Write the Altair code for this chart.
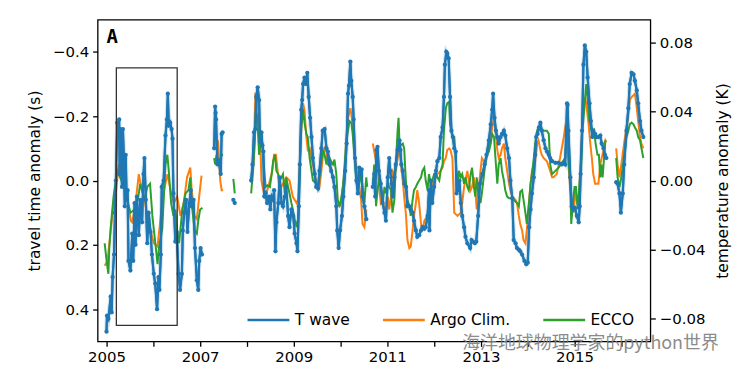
import altair as alt
import pandas as pd

# ---------------- data (year, travel-time anomaly in s) ----------------
# None separates gaps in a series
TWAVE = [
    (2005.00, 0.47), (2005.01, 0.42), (2005.04, 0.43), (2005.09, 0.36), (2005.11, 0.41), (2005.13, 0.30),
    (2005.16, 0.23), (2005.18, 0.10), (2005.20, 0.00), (2005.23, -0.18), (2005.25, -0.13), (2005.27, -0.19),
    (2005.28, -0.02), (2005.30, -0.16), (2005.33, 0.02), (2005.35, -0.16), (2005.37, -0.07), (2005.39, 0.08),
    (2005.41, -0.08), (2005.43, 0.06), (2005.45, 0.03), (2005.47, 0.25), (2005.51, 0.28), (2005.55, 0.165),
    (2005.57, 0.25), (2005.60, 0.07), (2005.62, 0.20), (2005.65, 0.05), (2005.69, 0.17), (2005.72, 0.06),
    (2005.76, 0.13), (2005.79, -0.02), (2005.81, -0.07), (2005.84, 0.06), (2005.87, 0.195), (2005.90, 0.10),
    (2005.94, 0.16), (2005.97, 0.23), (2006.01, 0.29), (2006.04, 0.32), (2006.08, 0.40), (2006.11, 0.30),
    (2006.13, 0.34), (2006.16, 0.23), (2006.18, 0.02), (2006.22, 0.00), (2006.26, -0.14), (2006.29, -0.19),
    (2006.31, -0.27), (2006.33, -0.17), (2006.36, -0.18), (2006.39, -0.16), (2006.41, -0.13), (2006.43, 0.04),
    (2006.47, 0.19), (2006.50, 0.16), (2006.54, 0.29), (2006.57, 0.34), (2006.61, 0.29), (2006.63, 0.155),
    (2006.66, 0.10), (2006.70, 0.06), (2006.73, 0.16), (2006.77, 0.07), (2006.80, 0.03), (2006.82, 0.08),
    (2006.86, 0.06), (2006.89, 0.21), (2006.93, 0.31), (2006.96, 0.34), (2006.98, 0.25), (2007.01, 0.21),
    (2007.04, 0.23),
    None,
    (2007.30, -0.10), (2007.32, -0.23), (2007.33, -0.21), (2007.34, -0.19), (2007.37, -0.05), (2007.40, -0.06),
    (2007.44, -0.02), (2007.46, -0.145), (2007.48, -0.15),
    None,
    (2007.71, 0.06), (2007.74, 0.07),
    None,
    (2008.09, 0.00), (2008.12, -0.05), (2008.15, -0.15), (2008.18, -0.16), (2008.20, -0.26), (2008.23, -0.29),
    (2008.26, -0.25), (2008.28, -0.12), (2008.31, -0.15), (2008.33, -0.11), (2008.35, -0.09), (2008.37, 0.05),
    (2008.40, 0.04), (2008.43, 0.07), (2008.47, 0.05), (2008.50, 0.09), (2008.53, 0.05), (2008.56, 0.06),
    (2008.58, 0.03), (2008.61, 0.22), (2008.63, 0.13), (2008.67, 0.07), (2008.70, -0.01), (2008.74, 0.07),
    (2008.77, 0.08), (2008.81, 0.05), (2008.84, 0.02), (2008.88, 0.11), (2008.91, 0.145), (2008.95, 0.09),
    (2008.99, 0.11), (2009.02, 0.165), (2009.06, 0.195), (2009.08, 0.22), (2009.11, 0.08), (2009.13, -0.05),
    (2009.16, -0.22), (2009.18, -0.25), (2009.20, -0.30), (2009.23, -0.32), (2009.26, -0.30), (2009.29, -0.335),
    (2009.32, -0.26), (2009.35, -0.195), (2009.38, -0.135), (2009.41, -0.07), (2009.45, -0.02), (2009.48, 0.02),
    (2009.52, 0.025), (2009.55, -0.03), (2009.59, -0.10), (2009.62, -0.155), (2009.66, -0.16), (2009.70, -0.10),
    (2009.73, -0.09), (2009.77, -0.05), (2009.80, -0.03), (2009.84, -0.01), (2009.87, 0.02), (2009.91, 0.08),
    (2009.93, 0.155), (2009.96, 0.21), (2009.99, 0.155), (2010.03, 0.11), (2010.06, 0.05), (2010.10, -0.03),
    (2010.13, -0.115), (2010.16, -0.27), (2010.18, -0.295), (2010.21, -0.37), (2010.23, -0.31), (2010.26, -0.26),
    (2010.28, -0.19), (2010.31, -0.07), (2010.34, 0.00), (2010.37, 0.04), (2010.40, -0.04), (2010.43, -0.02),
    (2010.45, -0.035), (2010.47, 0.05), (2010.51, 0.08), (2010.55, 0.12),
    None,
    (2010.69, 0.02), (2010.72, -0.02), (2010.74, 0.05), (2010.77, -0.095), (2010.79, -0.105), (2010.82, -0.03),
    (2010.86, 0.01), (2010.90, 0.07), (2010.94, 0.10), (2010.97, 0.125), (2011.01, -0.01), (2011.04, -0.07),
    (2011.06, -0.03), (2011.09, 0.01), (2011.12, 0.05), (2011.15, -0.01), (2011.18, -0.05), (2011.22, -0.095),
    (2011.26, -0.125), (2011.28, -0.095), (2011.30, -0.05), (2011.33, -0.03), (2011.36, 0.01), (2011.40, 0.02),
    (2011.43, 0.08), (2011.47, 0.08), (2011.50, 0.09), (2011.54, 0.10), (2011.57, 0.125), (2011.61, 0.155),
    (2011.64, 0.175), (2011.68, 0.17), (2011.72, 0.155), (2011.75, 0.145), (2011.79, 0.15), (2011.82, 0.145),
    (2011.86, 0.11), (2011.89, 0.03), (2011.90, 0.155), (2011.93, 0.00), (2011.96, 0.07), (2012.00, 0.02),
    (2012.04, -0.03), (2012.07, -0.06), (2012.11, -0.07), (2012.14, -0.135), (2012.18, -0.165), (2012.21, -0.26),
    (2012.23, -0.36), (2012.26, -0.40), (2012.28, -0.395), (2012.31, -0.38), (2012.34, -0.26), (2012.37, -0.155),
    (2012.40, -0.135), (2012.43, -0.10), (2012.46, -0.09), (2012.48, 0.04), (2012.51, 0.03), (2012.54, 0.00),
    (2012.57, 0.07), (2012.60, 0.11), (2012.64, 0.145), (2012.67, 0.175), (2012.71, 0.195), (2012.77, 0.21),
    (2012.80, 0.185), (2012.83, 0.19), (2012.87, 0.195), (2012.90, 0.19), (2012.94, 0.11), (2012.98, 0.01),
    (2013.03, -0.02), (2013.08, -0.05), (2013.12, -0.08), (2013.17, -0.125), (2013.21, -0.175), (2013.24, -0.22),
    (2013.26, -0.27), (2013.29, -0.195), (2013.32, -0.155), (2013.35, -0.135), (2013.38, -0.115), (2013.42, -0.135),
    (2013.45, -0.145), (2013.49, -0.155), (2013.52, -0.14), (2013.56, -0.10), (2013.60, -0.07), (2013.63, 0.00),
    (2013.67, 0.055), (2013.70, 0.185), (2013.74, 0.195), (2013.77, 0.21), (2013.81, 0.215), (2013.84, 0.22),
    (2013.88, 0.23), (2013.93, 0.25), (2013.97, 0.26), (2014.00, 0.255), (2014.03, 0.145), (2014.06, 0.09),
    (2014.09, 0.04), (2014.13, -0.01), (2014.16, -0.08), (2014.18, -0.135), (2014.21, -0.145), (2014.24, -0.165),
    (2014.27, -0.18), (2014.30, -0.155), (2014.34, -0.125), (2014.38, -0.10), (2014.41, -0.09), (2014.45, -0.08),
    (2014.48, -0.07), (2014.52, -0.06), (2014.59, -0.055), (2014.66, -0.055), (2014.73, -0.05), (2014.77, -0.055),
    (2014.80, -0.05), (2014.84, -0.24), (2014.85, -0.235), (2014.87, -0.155), (2014.91, -0.01), (2014.94, 0.08),
    (2014.98, 0.09), (2015.01, 0.085), (2015.05, 0.11), (2015.09, 0.13), (2015.11, 0.08), (2015.13, -0.02),
    (2015.16, -0.155), (2015.19, -0.36), (2015.22, -0.42), (2015.25, -0.40), (2015.28, -0.32), (2015.32, -0.24),
    (2015.35, -0.185), (2015.38, -0.135), (2015.40, -0.155), (2015.44, -0.145), (2015.47, -0.135), (2015.51, -0.135),
    (2015.55, -0.14), (2015.58, -0.115), (2015.62, -0.10), (2015.65, -0.08), (2015.68, -0.07),
    None,
    (2015.89, 0.005), (2015.92, 0.01), (2015.96, 0.04), (2015.99, 0.10), (2016.03, 0.04), (2016.06, -0.05),
    (2016.11, -0.155), (2016.15, -0.225), (2016.18, -0.30), (2016.22, -0.335), (2016.26, -0.33), (2016.29, -0.31),
    (2016.33, -0.28), (2016.36, -0.24), (2016.40, -0.185), (2016.43, -0.155), (2016.47, -0.135),
]

ARGO = [
    (2004.96, 0.265), (2005.02, 0.25), (2005.09, 0.155), (2005.15, 0.07), (2005.20, 0.04), (2005.26, -0.05),
    (2005.34, -0.02), (2005.43, 0.05), (2005.52, 0.125), (2005.55, 0.13), (2005.62, 0.07), (2005.69, -0.02),
    (2005.74, 0.02), (2005.80, 0.05), (2005.87, 0.11), (2005.94, 0.155), (2006.01, 0.195), (2006.09, 0.205),
    (2006.16, 0.11), (2006.23, 0.03), (2006.30, -0.02), (2006.37, 0.03), (2006.44, 0.07), (2006.51, 0.05),
    (2006.58, 0.11), (2006.65, 0.07), (2006.72, -0.01), (2006.79, -0.04), (2006.82, 0.03), (2006.88, 0.11),
    (2006.93, 0.12), (2006.98, 0.05), (2007.03, -0.015),
    None,
    (2007.30, -0.10), (2007.35, -0.10), (2007.38, -0.125), (2007.43, 0.00), (2007.46, 0.03), (2007.49, 0.03),
    None,
    (2008.10, 0.00), (2008.15, -0.07), (2008.18, -0.27), (2008.21, -0.27), (2008.24, -0.21), (2008.28, -0.145),
    (2008.31, 0.00), (2008.35, 0.03), (2008.38, 0.05), (2008.42, 0.04), (2008.49, 0.00), (2008.54, -0.03),
    (2008.58, -0.08), (2008.62, -0.08), (2008.67, -0.01), (2008.70, 0.03), (2008.77, 0.01), (2008.84, -0.01),
    (2008.91, 0.00), (2008.98, 0.05), (2009.06, 0.07), (2009.09, 0.06), (2009.13, -0.05), (2009.16, -0.155),
    (2009.20, -0.24), (2009.23, -0.22), (2009.27, -0.135), (2009.30, -0.095), (2009.34, -0.10), (2009.38, -0.07),
    (2009.45, -0.02), (2009.52, 0.03), (2009.55, 0.02), (2009.59, -0.03), (2009.62, -0.07), (2009.66, -0.10),
    (2009.70, -0.09), (2009.73, -0.05), (2009.80, -0.04), (2009.87, 0.02), (2009.94, 0.07), (2009.98, 0.08),
    (2010.01, 0.07), (2010.09, -0.03), (2010.12, -0.125), (2010.16, -0.195), (2010.21, -0.225), (2010.26, -0.175),
    (2010.30, -0.08), (2010.37, -0.01), (2010.40, 0.02), (2010.44, 0.06), (2010.47, 0.135), (2010.51, 0.145),
    (2010.55, 0.09),
    None,
    (2010.69, -0.115), (2010.72, -0.09), (2010.76, -0.06), (2010.79, -0.04), (2010.83, 0.03), (2010.86, 0.07),
    (2010.90, 0.06), (2010.94, 0.09), (2010.97, 0.095), (2011.01, 0.05), (2011.04, 0.09), (2011.08, 0.05),
    (2011.11, -0.03), (2011.15, -0.02), (2011.18, -0.03), (2011.22, -0.07), (2011.26, -0.10), (2011.29, -0.05),
    (2011.33, 0.00), (2011.36, 0.05), (2011.40, 0.11), (2011.43, 0.185), (2011.47, 0.21), (2011.50, 0.205),
    (2011.54, 0.155), (2011.57, 0.11), (2011.61, 0.07), (2011.64, 0.03), (2011.68, 0.07), (2011.72, 0.135),
    (2011.75, 0.155), (2011.79, 0.125), (2011.86, 0.11), (2011.89, 0.05), (2011.93, 0.03), (2011.96, 0.01),
    (2012.04, -0.01), (2012.07, -0.02), (2012.11, -0.025), (2012.14, -0.03), (2012.18, -0.04), (2012.21, -0.06),
    (2012.25, -0.07), (2012.28, -0.095), (2012.32, -0.10), (2012.35, -0.095), (2012.39, -0.07), (2012.43, 0.10),
    (2012.50, 0.11), (2012.57, 0.10), (2012.60, 0.07), (2012.64, 0.02), (2012.71, -0.03), (2012.74, 0.00),
    (2012.78, 0.03), (2012.81, 0.02), (2012.85, -0.01), (2012.88, 0.03), (2012.91, 0.09), (2012.95, 0.03),
    (2012.99, -0.03), (2013.02, -0.07), (2013.06, -0.06), (2013.09, -0.05), (2013.13, -0.08), (2013.17, -0.10),
    (2013.21, -0.125), (2013.24, -0.165), (2013.28, -0.195), (2013.31, -0.155), (2013.35, -0.095), (2013.38, -0.07),
    (2013.42, -0.08), (2013.45, -0.10), (2013.49, -0.115), (2013.52, -0.07), (2013.56, -0.03), (2013.60, 0.01),
    (2013.63, 0.03), (2013.67, 0.05), (2013.74, 0.06), (2013.77, 0.07), (2013.81, 0.11), (2013.84, 0.135),
    (2013.88, 0.155), (2013.91, 0.185), (2013.95, 0.195), (2013.98, 0.155), (2014.02, 0.08), (2014.06, 0.01),
    (2014.09, -0.03), (2014.13, -0.05), (2014.16, -0.06), (2014.20, -0.115), (2014.23, -0.125), (2014.27, -0.095),
    (2014.30, -0.08), (2014.34, -0.07), (2014.41, -0.06), (2014.48, -0.03), (2014.52, -0.01), (2014.55, -0.01),
    (2014.62, -0.02), (2014.69, -0.07), (2014.77, -0.135), (2014.80, -0.165), (2014.84, -0.15), (2014.87, -0.05),
    (2014.91, 0.03), (2014.94, 0.07), (2014.98, 0.10), (2015.01, 0.03), (2015.05, 0.07), (2015.09, 0.08),
    (2015.12, -0.03), (2015.16, -0.155), (2015.19, -0.225), (2015.23, -0.26), (2015.26, -0.225), (2015.30, -0.175),
    (2015.33, -0.125), (2015.37, -0.07), (2015.40, -0.02), (2015.44, 0.01), (2015.51, 0.01), (2015.55, -0.05),
    (2015.58, -0.07), (2015.62, -0.095), (2015.66, -0.125), (2015.68, -0.12),
    None,
    (2015.89, -0.10), (2015.92, -0.05), (2015.96, -0.01), (2016.00, -0.05), (2016.04, -0.095), (2016.08, -0.135),
    (2016.11, -0.165), (2016.15, -0.205), (2016.18, -0.25), (2016.22, -0.26), (2016.26, -0.265), (2016.29, -0.27),
    (2016.33, -0.225), (2016.36, -0.185), (2016.40, -0.135), (2016.43, -0.115), (2016.47, -0.10),
]

ECCO = [
    (2004.96, 0.195), (2005.01, 0.26), (2005.04, 0.29), (2005.06, 0.21), (2005.09, 0.145), (2005.15, 0.05),
    (2005.23, -0.03), (2005.32, 0.00), (2005.40, 0.03), (2005.51, 0.10), (2005.60, 0.09), (2005.68, 0.05),
    (2005.72, 0.01), (2005.81, 0.06), (2005.87, 0.02), (2005.93, 0.01), (2005.98, 0.11), (2006.05, 0.205),
    (2006.09, 0.26), (2006.12, 0.21), (2006.19, 0.15), (2006.26, -0.05), (2006.30, -0.08), (2006.33, -0.03),
    (2006.38, 0.07), (2006.43, 0.11), (2006.47, 0.09), (2006.51, 0.155), (2006.55, 0.195), (2006.62, 0.09),
    (2006.69, 0.04), (2006.75, 0.03), (2006.79, -0.01), (2006.82, 0.07), (2006.88, 0.155), (2006.93, 0.165),
    (2006.96, 0.125), (2007.00, 0.09), (2007.05, 0.085),
    None,
    (2007.30, -0.07), (2007.32, -0.05), (2007.35, -0.08), (2007.38, -0.06), (2007.43, -0.06), (2007.46, -0.08),
    (2007.49, -0.08),
    None,
    (2007.71, -0.005), (2007.74, 0.04),
    None,
    (2008.09, 0.04), (2008.13, -0.03), (2008.17, -0.125), (2008.19, -0.215), (2008.22, -0.20), (2008.26, -0.08),
    (2008.30, -0.125), (2008.33, -0.11), (2008.37, -0.03), (2008.40, 0.02), (2008.44, 0.015), (2008.49, 0.02),
    (2008.53, -0.02), (2008.56, -0.06), (2008.60, -0.08), (2008.63, -0.03), (2008.67, -0.02), (2008.70, 0.00),
    (2008.74, -0.01), (2008.77, -0.02), (2008.81, 0.04), (2008.84, -0.01), (2008.88, 0.02), (2008.91, 0.04),
    (2008.95, 0.07), (2008.98, 0.09), (2009.02, 0.12), (2009.06, 0.145), (2009.09, 0.12), (2009.13, -0.03),
    (2009.16, -0.165), (2009.20, -0.22), (2009.23, -0.18), (2009.27, -0.145), (2009.30, -0.135), (2009.34, -0.07),
    (2009.38, -0.03), (2009.41, 0.00), (2009.45, 0.005), (2009.48, 0.01), (2009.52, 0.02), (2009.55, -0.01),
    (2009.59, -0.06), (2009.62, -0.095), (2009.66, -0.08), (2009.70, -0.05), (2009.73, -0.08), (2009.80, -0.06),
    (2009.84, -0.05), (2009.87, -0.065), (2009.91, -0.02), (2009.94, 0.06), (2009.98, 0.08), (2010.01, 0.06),
    (2010.05, 0.02), (2010.09, -0.05), (2010.12, -0.115), (2010.16, -0.155), (2010.19, -0.185), (2010.23, -0.18),
    (2010.26, -0.145), (2010.30, -0.07), (2010.33, -0.01), (2010.37, 0.03), (2010.40, 0.01), (2010.44, -0.02),
    (2010.47, 0.02), (2010.51, 0.07), (2010.55, -0.01), (2010.57, 0.02),
    None,
    (2010.69, 0.01), (2010.72, -0.05), (2010.76, 0.08), (2010.79, 0.03), (2010.83, -0.01), (2010.86, 0.02),
    (2010.90, 0.07), (2010.94, 0.02), (2010.97, 0.04), (2011.01, 0.01), (2011.04, 0.02), (2011.08, 0.03),
    (2011.11, 0.10), (2011.15, 0.06), (2011.18, -0.05), (2011.22, -0.155), (2011.24, -0.195), (2011.26, -0.115),
    (2011.29, -0.11), (2011.33, -0.115), (2011.36, -0.10), (2011.40, 0.01), (2011.43, 0.06), (2011.47, 0.08),
    (2011.50, 0.11), (2011.54, 0.06), (2011.57, 0.03), (2011.61, 0.02), (2011.64, 0.01), (2011.68, 0.00),
    (2011.72, -0.01), (2011.75, -0.03), (2011.79, -0.04), (2011.82, 0.00), (2011.86, 0.03), (2011.89, -0.02),
    (2011.93, 0.01), (2011.96, 0.00), (2012.00, -0.02), (2012.04, -0.02), (2012.07, -0.01), (2012.11, 0.00),
    (2012.14, -0.03), (2012.18, -0.05), (2012.21, -0.155), (2012.25, -0.225), (2012.28, -0.24), (2012.32, -0.245),
    (2012.34, -0.175), (2012.37, -0.15), (2012.40, -0.135), (2012.43, -0.135), (2012.46, -0.07), (2012.50, 0.02),
    (2012.53, -0.03), (2012.57, -0.01), (2012.60, -0.02), (2012.64, 0.01), (2012.67, -0.01), (2012.71, 0.02),
    (2012.74, 0.03), (2012.78, -0.02), (2012.81, -0.04), (2012.85, 0.02), (2012.88, 0.05), (2012.91, -0.01),
    (2012.95, 0.05), (2012.99, 0.07), (2013.02, 0.04), (2013.06, -0.01), (2013.09, -0.05), (2013.13, -0.08),
    (2013.17, -0.09), (2013.21, -0.115), (2013.24, -0.145), (2013.28, -0.135), (2013.31, -0.07), (2013.35, 0.01),
    (2013.38, -0.05), (2013.42, -0.07), (2013.45, -0.03), (2013.49, 0.00), (2013.52, 0.03), (2013.56, 0.05),
    (2013.60, 0.055), (2013.67, 0.055), (2013.70, 0.06), (2013.77, 0.07), (2013.81, 0.08), (2013.84, 0.035),
    (2013.88, 0.03), (2013.91, 0.06), (2013.95, 0.10), (2013.98, 0.135), (2014.02, 0.08), (2014.06, 0.01),
    (2014.09, -0.02), (2014.13, -0.07), (2014.16, -0.115), (2014.20, -0.155), (2014.23, -0.165), (2014.27, -0.16),
    (2014.34, -0.155), (2014.41, -0.155), (2014.45, -0.145), (2014.48, -0.05), (2014.52, -0.02), (2014.59, -0.03),
    (2014.66, -0.04), (2014.73, -0.055), (2014.80, -0.07), (2014.84, -0.155), (2014.87, -0.07), (2014.91, 0.02),
    (2014.93, 0.135), (2014.96, 0.08), (2015.00, 0.02), (2015.03, 0.02), (2015.07, 0.09), (2015.11, 0.00),
    (2015.14, -0.03), (2015.17, -0.155), (2015.21, -0.225), (2015.25, -0.30), (2015.28, -0.26), (2015.31, -0.195),
    (2015.35, -0.165), (2015.38, -0.145), (2015.42, -0.155), (2015.45, -0.115), (2015.49, -0.08), (2015.52, -0.08),
    (2015.55, -0.01), (2015.57, -0.05), (2015.60, -0.01), (2015.63, -0.07), (2015.66, -0.125),
    None,
    (2015.89, -0.07), (2015.92, -0.01), (2015.96, 0.02), (2016.00, -0.01), (2016.04, -0.05), (2016.08, -0.10),
    (2016.11, -0.135), (2016.15, -0.155), (2016.18, -0.175), (2016.22, -0.18), (2016.26, -0.175), (2016.29, -0.165),
    (2016.33, -0.155), (2016.36, -0.135), (2016.40, -0.125), (2016.43, -0.10), (2016.47, -0.07),
]

SERIES = ["T wave", "Argo Clim.", "ECCO"]
COLORS = ["#1f77b4", "#ff7f0e", "#2ca02c"]
YEAR_TICKS = list(range(2005, 2017))
TT_TICKS = [-0.4, -0.2, 0.0, 0.2, 0.4]
TEMP_TICKS = [0.08, 0.04, 0.0, -0.04, -0.08]
TT_DOMAIN = [-0.5, 0.5]
TEMP_DOMAIN = [-0.0933, 0.0933]
YEAR_DOMAIN = [2004.81, 2016.62]
BOX_YEARS = [2005.21, 2006.51]
BOX_VALS = [-0.35, 0.45]
PANEL_LABEL = "A"
WATERMARK = "海洋地球物理学家的python世界"


def to_rows(name, pts):
    rows, seg = [], 0
    for p in pts:
        if p is None:
            seg += 1
            continue
        rows.append({"year": p[0], "tt": p[1], "series": name, "seg": f"{name}-{seg}"})
    return rows


df = pd.DataFrame(to_rows("Argo Clim.", ARGO) + to_rows("ECCO", ECCO) + to_rows("T wave", TWAVE))
tw = df[df.series == "T wave"]

FONT = "DejaVu Sans"
xscale = alt.Scale(domain=YEAR_DOMAIN, nice=False, zero=False)
yscale = alt.Scale(domain=TT_DOMAIN, reverse=True, nice=False, zero=False)

xaxis = alt.Axis(values=YEAR_TICKS, title=None, grid=False, domain=False,
                 labelExpr="datum.value % 2 == 1 ? format(datum.value, 'd') : ''",
                 tickSize=5, tickWidth=1.3, tickColor="black", labelFontSize=15,
                 labelColor="black", labelPadding=3, labelFont=FONT)
yaxis = alt.Axis(values=TT_TICKS, format=".1f", title="travel time anomaly (s)", grid=False,
                 domain=False, tickSize=5, tickWidth=1.3, tickColor="black", labelFontSize=15,
                 labelColor="black", labelPadding=4, titleFontSize=15.5, titleFontWeight="normal",
                 titleColor="black", titlePadding=10, labelFont=FONT, titleFont=FONT)

X = alt.X("year:Q", scale=xscale, axis=xaxis)
Y = alt.Y("tt:Q", scale=yscale, axis=yaxis)

lines = alt.Chart(df).mark_line(strokeWidth=2, clip=True).encode(
    x=X, y=Y,
    color=alt.Color("series:N", scale=alt.Scale(domain=SERIES, range=COLORS),
                    legend=alt.Legend(orient="none", legendX=149, legendY=279, direction="horizontal",
                                      title=None, symbolType="stroke", symbolSize=1764,
                                      symbolStrokeWidth=2.5, labelFontSize=15.5, labelFont=FONT,
                                      labelColor="black", columnPadding=27, labelOffset=4, padding=0)),
    detail="seg:N",
)

band = alt.Chart(tw).mark_line(strokeWidth=4.5, opacity=0.2, color=COLORS[0]).encode(
    x=X, y=Y, detail="seg:N")
blue = alt.Chart(tw).mark_line(strokeWidth=2.2, color=COLORS[0]).encode(x=X, y=Y, detail="seg:N")
pts = alt.Chart(tw).mark_circle(size=18, opacity=1, color=COLORS[0]).encode(x=X, y=Y)

box_df = pd.DataFrame({"x0": [BOX_YEARS[0]], "x1": [BOX_YEARS[1]], "y0": [BOX_VALS[0]], "y1": [BOX_VALS[1]]})
box = alt.Chart(box_df).mark_rect(fillOpacity=0, stroke="#333333", strokeWidth=1.3).encode(
    x=alt.X("x0:Q", scale=xscale, axis=xaxis), x2="x1:Q",
    y=alt.Y("y0:Q", scale=yscale, axis=yaxis), y2="y1:Q")

label = alt.Chart(pd.DataFrame({"t": [PANEL_LABEL]})).mark_text(
    font="DejaVu Sans Mono", fontWeight="bold", fontSize=19, align="left", baseline="alphabetic",
    color="black").encode(text="t:N", x=alt.value(9), y=alt.value(23))

wm = alt.Chart(pd.DataFrame({"t": [WATERMARK]})).mark_text(
    font="Noto Sans CJK SC", fontSize=18, align="left", baseline="middle", color="#7f7f7f",
    opacity=0.9).encode(text="t:N", x=alt.value(366), y=alt.value(326))

main = alt.layer(lines, band, blue, pts, box, label, wm)

temp_df = pd.DataFrame({"year": [2010.0, 2010.0], "temp": TEMP_DOMAIN})
right = alt.Chart(temp_df).mark_point(opacity=0).encode(
    x=X,
    y=alt.Y("temp:Q", scale=alt.Scale(domain=TEMP_DOMAIN, nice=False, zero=False),
            axis=alt.Axis(orient="right", values=TEMP_TICKS, format=".2f",
                          title="temperature anomaly (K)", grid=False, domain=False, tickSize=5,
                          tickWidth=1.3, tickColor="black", labelFontSize=15, labelColor="black",
                          labelPadding=4, titleFontSize=15.5, titleFontWeight="normal",
                          titleColor="black", titlePadding=10, titleAngle=270, titleBaseline="top",
                          labelFont=FONT, titleFont=FONT)),
)

chart = alt.layer(main, right).resolve_scale(y="independent").properties(
    width=555, height=323, padding={"left": 19, "top": 8, "right": 5, "bottom": 5}
).configure(font=FONT, background="white").configure_view(stroke="black", strokeWidth=1.3)

chart.save("out.html", embed_options={"renderer": "svg", "actions": False})
